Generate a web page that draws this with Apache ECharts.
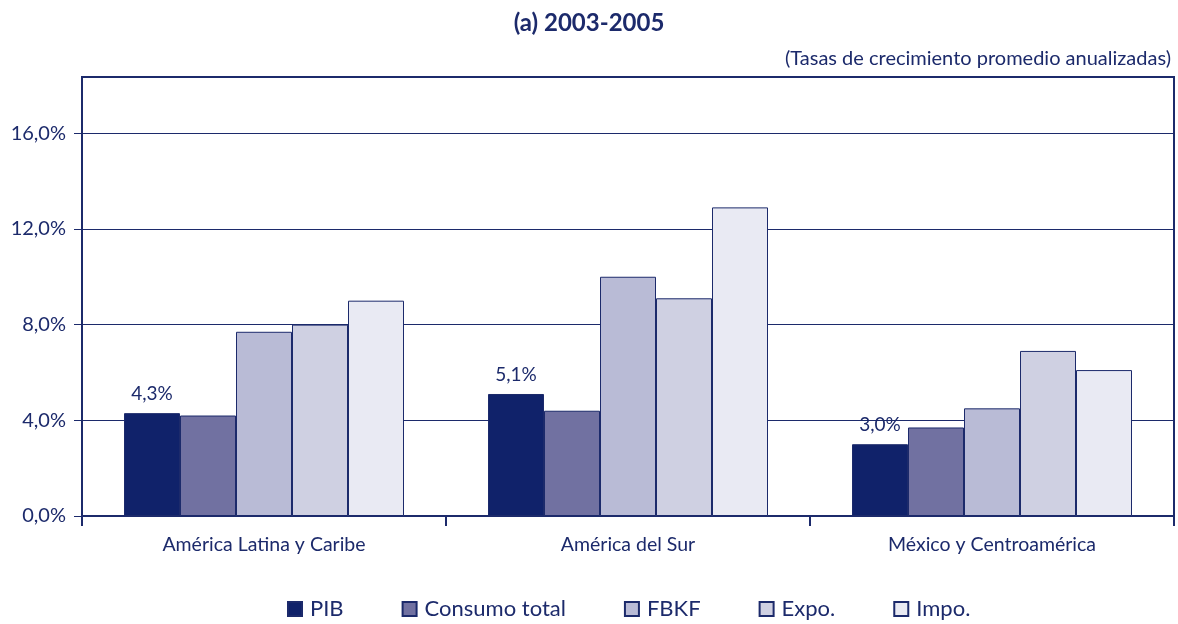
<!DOCTYPE html>
<html>
<head>
<meta charset="utf-8">
<script src="https://cdn.jsdelivr.net/npm/echarts@6/dist/echarts.min.js"></script>
<style>
  html, body { margin: 0; padding: 0; background: #fff; }
  #chart-container { width: 1178px; height: 624px; }
</style>
</head>
<body>
<div id="chart-container"></div>
<script>
const categories = ['América Latina y Caribe', 'América del Sur', 'México y Centroamérica'];
const seriesNames = ['PIB', 'Consumo total', 'FBKF', 'Expo.', 'Impo.'];
const pib = [4.3, 5.1, 3.0];
const consumo = [4.2, 4.4, 3.7];
const fbkf = [7.7, 10.0, 4.5];
const expo = [8.0, 9.1, 6.9];
const impo = [9.0, 12.9, 6.1];
const colors = ['#10226a', '#7171a1', '#b9bbd6', '#cfd0e2', '#e9eaf3'];

const navy = '#1c2a6b';
const fontFamily = 'Lato, "Open Sans", sans-serif';

document.addEventListener('DOMContentLoaded', () => {
  const chart = echarts.init(document.getElementById('chart-container'));
  const values = [pib, consumo, fbkf, expo, impo];

  const fmt = v => v.toFixed(1).replace('.', ',') + '%';

  const series = seriesNames.map((name, i) => ({
    name: name,
    type: 'bar',
    data: values[i],
    barWidth: 56,
    barGap: '0%',
    itemStyle: { color: colors[i], borderColor: navy, borderWidth: 1 },
    label: i === 0 ? {
      show: true,
      position: 'top',
      distance: 10,
      color: navy,
      fontSize: 19,
      fontFamily: fontFamily,
      formatter: p => fmt(p.value)
    } : { show: false }
  }));

  const option = {
    animation: false,
    title: [
      {
        text: '(a) 2003-2005',
        left: 'center',
        top: 6,
        textStyle: { color: navy, fontSize: 24, fontWeight: 'bold', fontFamily: fontFamily }
      },
      {
        text: '(Tasas de crecimiento promedio anualizadas)',
        right: 2,
        top: 44,
        textStyle: { color: navy, fontSize: 20, fontWeight: 'normal', fontFamily: fontFamily }
      }
    ],
    legend: {
      top: 593,
      left: 282,
      itemWidth: 14,
      itemHeight: 14,
      itemGap: 58,
      icon: 'rect',
      textStyle: { color: navy, fontSize: 22, fontFamily: fontFamily, padding: [0, 0, 0, 3] },
      data: seriesNames
    },
    grid: {
      left: 82, right: 4, top: 77, bottom: 108,
      show: true,
      borderColor: navy,
      borderWidth: 2,
      containLabel: false
    },
    xAxis: {
      type: 'category',
      data: categories,
      axisLine: { lineStyle: { color: navy, width: 2 } },
      axisTick: { show: true, length: 10, lineStyle: { color: navy, width: 2 } },
      axisLabel: { color: navy, fontSize: 19.5, fontFamily: fontFamily, margin: 19 }
    },
    yAxis: {
      type: 'value',
      min: 0,
      max: 18.35,
      interval: 4,
      axisLine: { show: true, lineStyle: { color: navy, width: 2 } },
      axisTick: { show: true, length: 8, lineStyle: { color: navy } },
      axisLabel: {
        color: navy, fontSize: 20, fontFamily: fontFamily, margin: 16,
        showMaxLabel: false,
        formatter: v => fmt(v)
      },
      splitLine: { lineStyle: { color: navy, width: 1 } }
    },
    series: series
  };

  chart.setOption(option);
});
</script>
</body>
</html>
